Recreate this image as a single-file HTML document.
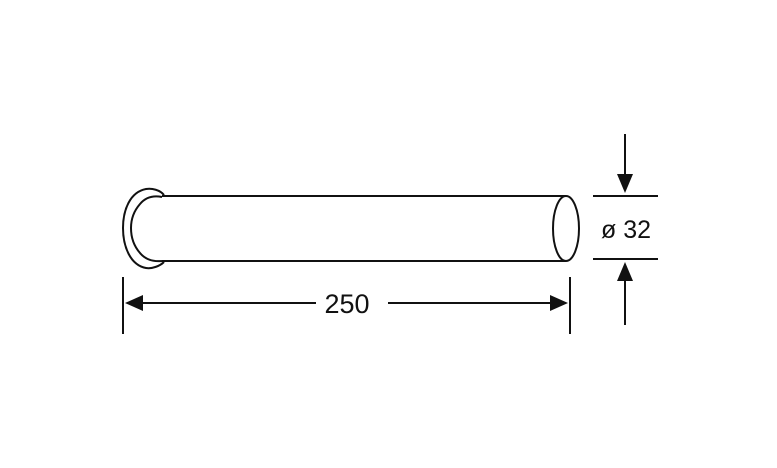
<!DOCTYPE html>
<html><head><style>html,body{margin:0;padding:0;background:#fff;}svg{display:block}</style></head>
<body>
<svg width="777" height="468" viewBox="0 0 777 468" xmlns="http://www.w3.org/2000/svg">
<g fill="none" stroke="#111" stroke-width="2">
  <!-- tube -->
  <line x1="162" y1="196" x2="566" y2="196"/>
  <line x1="162" y1="261" x2="566" y2="261"/>
  <ellipse cx="566" cy="228.5" rx="13" ry="32.5"/>
  <!-- flange -->
  <path d="M164 195 C160 190 152 188 146 189 C130 192 123 210 123 228 C123 246 130 265 146 268 C152 269 160 266 164 262"/>
  <path d="M162 197 C152 195 145 198 140 204 C133 212 131 220 131 228 C131 236 133 245 140 253 C145 259 152 262 162 261"/>
  <!-- length dimension -->
  <line x1="123" y1="277" x2="123" y2="334"/>
  <line x1="570" y1="277" x2="570" y2="334"/>
  <line x1="135" y1="303" x2="316" y2="303"/>
  <line x1="388" y1="303" x2="556" y2="303"/>
  <!-- diameter dimension -->
  <line x1="593" y1="196" x2="658" y2="196"/>
  <line x1="593" y1="259" x2="658" y2="259"/>
  <line x1="625" y1="134" x2="625" y2="178"/>
  <line x1="625" y1="278" x2="625" y2="325"/>
</g>
<g fill="#111">
  <polygon points="125,303 143,295 143,311"/>
  <polygon points="568,303 550,295 550,311"/>
  <polygon points="625,193 617,174 633,174"/>
  <polygon points="625,262 617,281 633,281"/>
</g>
<text x="347" y="313" font-family="Liberation Sans, sans-serif" font-size="27" text-anchor="middle" fill="#111">250</text>
<text x="626" y="238" font-family="Liberation Sans, sans-serif" font-size="25" text-anchor="middle" fill="#111">ø 32</text>
</svg>
</body></html>
